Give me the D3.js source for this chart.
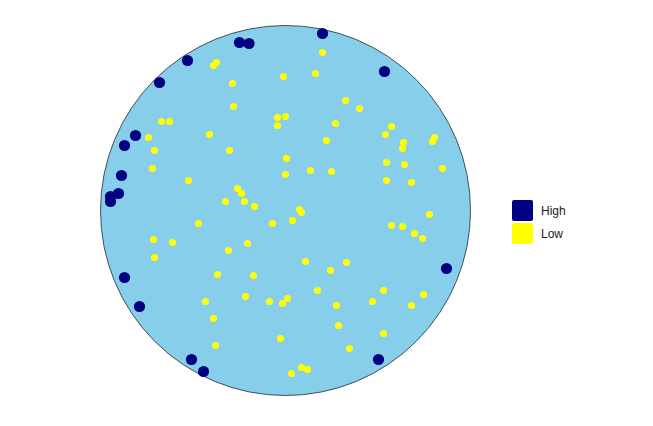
<!DOCTYPE html>
<html>
<head>
<meta charset="utf-8">
<script src="https://cdn.jsdelivr.net/npm/d3@7"></script>
<style>
  html, body { margin: 0; padding: 0; background: #ffffff; }
  svg { display: block; }
</style>
</head>
<body>
<svg id="chart" width="653" height="426"></svg>
<script>
// Coordinates relative to the circle centre (circle radius = 185 units)
const circleRadius = 185;

const highPoints = [
  [-46,168],[-36.5,167],[-98,150],[-126,128],[37,177],[99,139],
  [-150,75],[-161,65],[-164,35],[-167,17],[-175,14],[-175,9],
  [-161,-67],[-146,-96],[-94,-149],[-82,-161],[93,-149],[161,-58]
];

const lowPoints = [
  [-72,145],[-69,148],[-53,127],[-52,104],[-124,89],[-116,89],[-137,73],[-76,76],
  [-131,60],[-56,60],[-133,42],[-97,30],[-48,22],[-44,17],[-60,9],[-41,9],[-31,4],
  [-2,134],[-8,93],[0,94],[-8,85],[1,52],[0,36],
  [37,158],[30,137],[60,110],[74,102],[50,87],[106,84],[100,76],[149,73],[147,69],
  [41,70],[118,68],[117,62],[101,48],[119,46],[157,42],[25,40],[46,39],[101,30],
  [126,28],[14,1],[16,-2],[144,-4],
  [7,-10],[106,-15],[117,-16],[129,-23],[137,-28],[20,-51],[45,-60],[61,-52],
  [32,-80],[2,-88],[-3,-93],[51,-95],[98,-80],[87,-91],[138,-84],[126,-95],
  [53,-115],[98,-123],[64,-138],[-5,-128],[6,-163],[16,-157],[22,-159],
  [-87,-13],[-13,-13],[-132,-29],[-113,-32],[-131,-47],[-57,-40],[-38,-33],
  [-68,-64],[-32,-65],[-40,-86],[-80,-91],[-16,-91],[-72,-108],[-70,-135]
];

const legendLabels = ["High", "Low"];
const legendColors = ["#000080", "#FFFF00"];

const svg = d3.select("#chart");
const cx = 285.5, cy = 210.5, rPx = 185;

const x = d3.scaleLinear().domain([-circleRadius, circleRadius]).range([cx - rPx, cx + rPx]);
const y = d3.scaleLinear().domain([-circleRadius, circleRadius]).range([cy + rPx, cy - rPx]);

svg.append("circle")
  .attr("cx", x(0)).attr("cy", y(0))
  .attr("r", x(circleRadius) - x(0))
  .attr("fill", "#87CEEB")
  .attr("stroke", "#3f4f5a")
  .attr("stroke-width", 1);

svg.append("g").selectAll("circle")
  .data(lowPoints).join("circle")
  .attr("cx", d => x(d[0])).attr("cy", d => y(d[1]))
  .attr("r", 3.6)
  .attr("fill", legendColors[1]);

svg.append("g").selectAll("circle")
  .data(highPoints).join("circle")
  .attr("cx", d => x(d[0])).attr("cy", d => y(d[1]))
  .attr("r", 5.6)
  .attr("fill", legendColors[0]);

const legend = svg.append("g").attr("transform", "translate(512,200)");
const items = legend.selectAll("g").data(legendLabels).join("g")
  .attr("transform", (d, i) => `translate(0,${i * 23})`);
items.append("rect")
  .attr("width", 21).attr("height", 21).attr("rx", 2)
  .attr("fill", (d, i) => legendColors[i]);
items.append("text")
  .attr("x", 29).attr("y", 11)
  .attr("dy", "0.35em")
  .attr("font-family", "Liberation Sans, Arial, sans-serif")
  .attr("font-size", 12)
  .attr("fill", "#1a1a1a")
  .text(d => d);
</script>
</body>
</html>
